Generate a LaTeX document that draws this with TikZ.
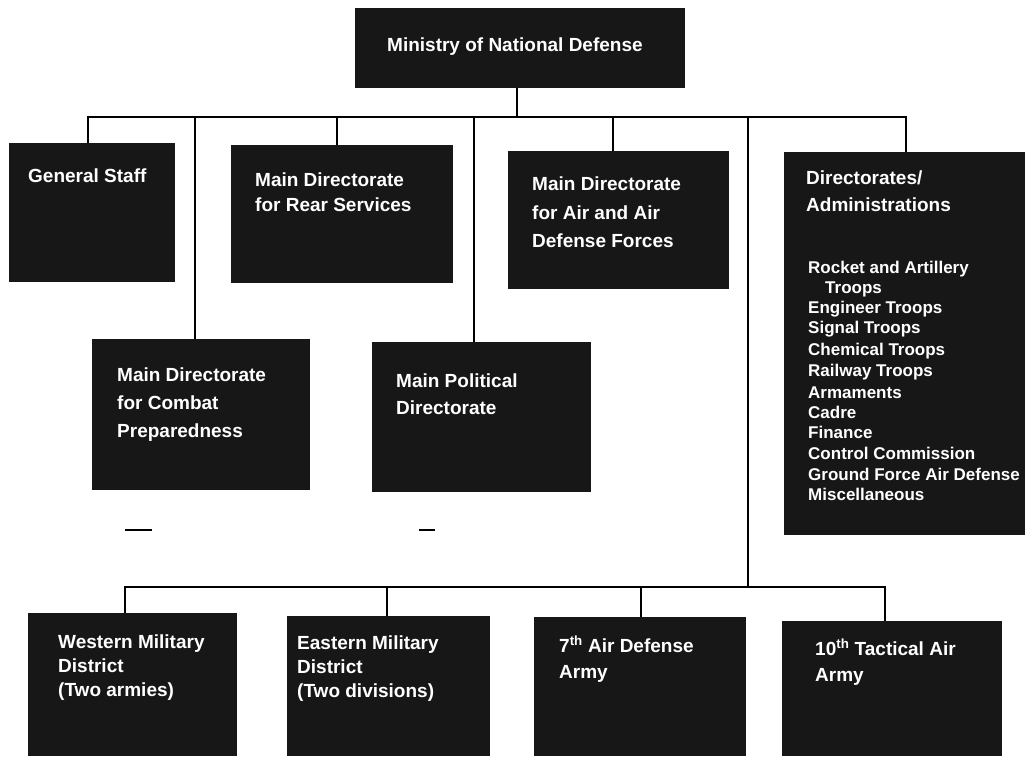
\documentclass[tikz,border=0pt]{standalone}
\usepackage{fontspec}
\setmainfont{Liberation Sans}
\definecolor{boxfill}{rgb}{0.09,0.09,0.09}
\begin{document}
\begin{tikzpicture}[x=1pt,y=-1pt,
  box/.style={fill=boxfill, draw=none, inner sep=0pt, outer sep=0pt, anchor=north west},
  lbl/.style={text=white, font=\bfseries\fontsize{19}{19}\selectfont, anchor=base west, inner sep=0pt},
  item/.style={text=white, font=\bfseries\fontsize{17}{17}\selectfont, anchor=base west, inner sep=0pt},
  conn/.style={line width=2.8pt, black},
  speck/.style={line width=1.2pt, black}]
\useasboundingbox (0,0) rectangle (1028,756);

% boxes
\node[box, minimum width=330pt, minimum height=80pt] (min) at (355,8) {};
\node[box, minimum width=166pt, minimum height=139pt] (gs) at (9,143) {};
\node[box, minimum width=222pt, minimum height=138pt] (rear) at (231,145) {};
\node[box, minimum width=221pt, minimum height=138pt] (air) at (508,151) {};
\node[box, minimum width=241pt, minimum height=383pt] (dir) at (784,152) {};
\node[box, minimum width=218pt, minimum height=151pt] (comb) at (92,339) {};
\node[box, minimum width=219pt, minimum height=150pt] (pol) at (372,342) {};
\node[box, minimum width=209pt, minimum height=143pt] (west) at (28,613) {};
\node[box, minimum width=203pt, minimum height=140pt] (east) at (287,616) {};
\node[box, minimum width=212pt, minimum height=139pt] (sev) at (534,617) {};
\node[box, minimum width=220pt, minimum height=135pt] (ten) at (782,621) {};

% texts
\node[lbl] (min-t) at (387,51) {Ministry of National Defense};
\node[lbl] (gs-t) at (28,182) {General Staff};
\node[lbl] (rear-t1) at (255,186) {Main Directorate};
\node[lbl] (rear-t2) at (255,211) {for Rear Services};
\node[lbl] (air-t1) at (532,190) {Main Directorate};
\node[lbl] (air-t2) at (532,219) {for Air and Air};
\node[lbl] (air-t3) at (532,247) {Defense Forces};
\node[lbl] (dir-t1) at (806,184) {Directorates/};
\node[lbl] (dir-t2) at (806,211) {Administrations};
\node[item] (d1) at (808,273) {Rocket and Artillery};
\node[item] (d2) at (825,293) {Troops};
\node[item] (d3) at (808,313) {Engineer Troops};
\node[item] (d4) at (808,333) {Signal Troops};
\node[item] (d5) at (808,355) {Chemical Troops};
\node[item] (d6) at (808,376) {Railway Troops};
\node[item] (d7) at (808,398) {Armaments};
\node[item] (d8) at (808,418) {Cadre};
\node[item] (d9) at (808,438) {Finance};
\node[item] (d10) at (808,459) {Control Commission};
\node[item] (d11) at (808,480) {Ground Force Air Defense};
\node[item] (d12) at (808,500) {Miscellaneous};
\node[lbl] (comb-t1) at (117,381) {Main Directorate};
\node[lbl] (comb-t2) at (117,409) {for Combat};
\node[lbl] (comb-t3) at (117,437) {Preparedness};
\node[lbl] (pol-t1) at (396,387) {Main Political};
\node[lbl] (pol-t2) at (396,414) {Directorate};
\node[lbl] (west-t1) at (58,648) {Western Military};
\node[lbl] (west-t2) at (58,672) {District};
\node[lbl] (west-t3) at (58,696) {(Two armies)};
\node[lbl] (east-t1) at (297,649) {Eastern Military};
\node[lbl] (east-t2) at (297,673) {District};
\node[lbl] (east-t3) at (297,697) {(Two divisions)};
\node[lbl] (sev-t1) at (559,652) {7\textsuperscript{th} Air Defense};
\node[lbl] (sev-t2) at (559,678) {Army};
\node[lbl] (ten-t1) at (815,655) {10\textsuperscript{th} Tactical Air};
\node[lbl] (ten-t2) at (815,681) {Army};

% connector coordinates
\coordinate (busL) at (88,117);
\coordinate (busR) at (906,117);
\coordinate (jC) at (195,117);
\coordinate (jR) at (337,117);
\coordinate (jP) at (474,117);
\coordinate (jM) at (517,117);
\coordinate (jA) at (613,117);
\coordinate (jL) at (748,117);
\coordinate (bbL) at (125,587);
\coordinate (bbR) at (885,587);
\coordinate (bE) at (387,587);
\coordinate (bS) at (641,587);
\coordinate (bL) at (748,587);

% connectors
\draw[conn] (jM |- min.south) -- (jM);
\draw[conn] (busL |- gs.north) -- (busL) -- (busR) -- (busR |- dir.north);
\draw[conn] (jC) -- (jC |- comb.north);
\draw[conn] (jR) -- (jR |- rear.north);
\draw[conn] (jP) -- (jP |- pol.north);
\draw[conn] (jA) -- (jA |- air.north);
\draw[conn] (jL) -- (bL);
\draw[conn] (bbL |- west.north) -- (bbL) -- (bbR) -- (bbR |- ten.north);
\draw[conn] (bE) -- (bE |- east.north);
\draw[conn] (bS) -- (bS |- sev.north);

% small stray marks
\coordinate (m1a) at (125,530); \coordinate (m1b) at (152,530);
\coordinate (m2a) at (419,530); \coordinate (m2b) at (435,530);
\draw[speck] (m1a) -- (m1b);
\draw[speck] (m2a) -- (m2b);
\end{tikzpicture}
\end{document}
